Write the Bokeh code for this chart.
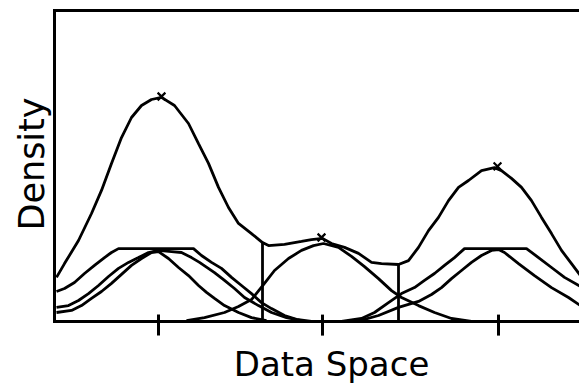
import math
from bokeh.plotting import figure
from bokeh.models import Range1d
from bokeh.core.properties import value
from bokeh.embed import file_html
from bokeh.resources import INLINE

# ---- data (x: data space units, y: density units) ----
total_x = [0.2, 1.0, 2.4, 3.7, 4.7, 5.7, 6.7, 7.7, 8.7, 9.7, 10.7, 12.0, 13.4, 14.4, 15.4, 16.4,
           17.4, 18.4, 19.7, 20.8, 21.4, 23.0, 24.7, 25.7, 26.8, 27.7, 29.0, 30.4, 31.7, 32.7,
           34.4, 35.4, 36.4, 37.4, 38.4, 39.4, 40.4, 41.4, 42.7, 44.0, 44.7, 45.7, 46.7, 47.7,
           48.7, 49.7, 50.7, 51.7, 52.6]
total_y = [14.7, 19.3, 27.0, 36.0, 43.7, 52.7, 61.3, 68.0, 72.0, 74.0, 74.7, 72.0, 66.0, 59.3,
           52.7, 44.7, 38.0, 32.7, 29.3, 26.3, 25.3, 25.7, 26.7, 27.3, 27.7, 26.0, 24.7, 22.7,
           19.7, 19.3, 19.0, 20.3, 24.7, 30.3, 34.7, 40.3, 44.7, 47.0, 50.3, 51.3, 50.3, 47.7,
           44.7, 40.3, 34.7, 29.3, 23.7, 19.3, 15.3]

left_plateau_x = [0.2, 1.0, 2.0, 3.0, 4.0, 5.0, 5.7, 6.4, 13.9, 14.7, 15.7, 16.7, 17.7, 18.7,
                  19.7, 20.7, 21.7, 23.0, 24.2, 25.7]
left_plateau_y = [10.0, 11.0, 13.0, 16.0, 18.7, 21.3, 23.0, 24.3, 24.3, 22.0, 19.7, 17.7, 14.7,
                  12.0, 9.3, 6.3, 4.3, 2.0, 0.7, 0.0]

left_wide_x = [0.2, 1.4, 2.4, 3.4, 4.4, 5.4, 6.4, 7.4, 8.4, 9.4, 10.4, 11.7, 12.7, 13.7, 14.5,
               16.0, 17.0, 18.0, 19.0, 20.4, 21.7, 23.2, 24.7]
left_wide_y = [4.7, 5.3, 7.0, 9.3, 12.0, 15.0, 17.7, 19.7, 21.3, 23.0, 23.7, 23.3, 23.0, 21.3,
               19.7, 16.3, 13.7, 11.0, 8.0, 5.3, 3.0, 1.3, 0.3]

left_narrow_x = [0.2, 1.7, 2.7, 3.7, 4.7, 5.7, 6.7, 7.7, 8.7, 9.7, 10.4, 11.4, 12.4, 13.4, 14.4,
                 15.2, 16.0, 17.0, 18.4, 19.7, 21.2]
left_narrow_y = [3.0, 3.7, 5.3, 7.7, 10.0, 12.7, 15.7, 18.7, 21.0, 23.0, 23.3, 21.0, 18.0, 15.3,
                 12.0, 9.7, 7.7, 5.3, 3.0, 1.3, 0.3]

middle_x = [13.2, 15.0, 17.0, 18.4, 19.7, 20.9, 22.0, 23.4, 24.7, 25.9, 26.9, 28.4, 29.7, 31.0,
            32.4, 33.7, 34.7, 36.4, 38.0, 39.7, 41.7]
middle_y = [0.3, 1.3, 3.0, 5.0, 7.3, 12.3, 17.0, 21.0, 23.7, 25.3, 26.0, 24.7, 21.7, 18.3, 14.3,
            10.3, 8.0, 5.3, 3.0, 1.0, 0.0]

right_plateau_x = [28.7, 30.7, 32.0, 33.4, 34.7, 36.0, 37.0, 38.0, 39.0, 40.0, 41.0, 47.2, 48.4,
                   49.7, 51.0, 52.6]
right_plateau_y = [0.0, 1.0, 3.0, 6.3, 9.3, 11.3, 13.7, 16.0, 18.7, 21.3, 24.3, 24.3, 21.3,
                   18.0, 14.7, 11.7]

right_gauss_x = [29.4, 31.0, 32.4, 34.4, 36.4, 37.7, 38.7, 39.7, 40.7, 41.7, 42.7, 43.7, 44.4,
                 45.0, 46.4, 48.0, 49.7, 51.4, 52.6]
right_gauss_y = [0.0, 0.7, 2.0, 4.7, 6.7, 9.0, 11.3, 14.3, 17.0, 19.7, 22.0, 23.7, 24.0, 23.0,
                 19.3, 15.3, 11.3, 8.0, 5.3]

# cluster boundaries (vertical lines up to the total density)
boundary_x = [20.8, 34.4]
boundary_top = [26.3, 19.0]

# modes (x markers) and tick positions
mode_x = [10.7, 26.7, 44.3]
mode_y = [75.0, 28.0, 51.7]
tick_x = [10.4, 26.8, 44.4]

x_label = "Data Space"
y_label = "Density"

# plot box extent (data units)
X_MAX = 52.6
Y_TOP = 103.7

FONT = "DejaVu Sans"

p = figure(width=579, height=387, output_backend="svg", toolbar_location=None,
           x_range=Range1d(-5.4, 52.5), y_range=Range1d(-22.0, 107.0),
           x_axis_type=None, y_axis_type=None,
           min_border_left=0, min_border_right=0, min_border_top=0, min_border_bottom=0)
p.grid.visible = False
p.outline_line_color = None
p.background_fill_color = "white"
p.border_fill_color = "white"

# plot box: top border, left border, bottom axis line
p.line([X_MAX, 0, 0, X_MAX], [Y_TOP, Y_TOP, 0, 0], line_color="black", line_width=3,
       line_join="miter")
# tick marks on the data axis
p.segment(x0=tick_x, y0=[-4.7] * len(tick_x), x1=tick_x, y1=[2.3] * len(tick_x),
          line_color="black", line_width=3)

lw = 2.8
for xs, ys in [(left_plateau_x, left_plateau_y), (left_wide_x, left_wide_y),
               (left_narrow_x, left_narrow_y), (middle_x, middle_y),
               (right_plateau_x, right_plateau_y), (right_gauss_x, right_gauss_y),
               (total_x, total_y)]:
    p.line(xs, ys, line_color="black", line_width=lw)

p.segment(x0=boundary_x, y0=[0] * len(boundary_x), x1=boundary_x, y1=boundary_top,
          line_color="black", line_width=lw)
p.scatter(mode_x, mode_y, marker="x", size=11, line_color="black", line_width=2.2)

# axis titles
p.text(x=[27.7], y=[-14.0], text=[x_label], text_align="center", text_baseline="middle",
       text_font=value(FONT), text_font_size="34px", text_color="black")
p.text(x=[-2.25], y=[52.5], text=[y_label], angle=math.pi / 2, text_align="center",
       text_baseline="middle", text_font=value(FONT), text_font_size="35px",
       text_color="black")

open("out.html", "w").write(file_html(p, INLINE))
